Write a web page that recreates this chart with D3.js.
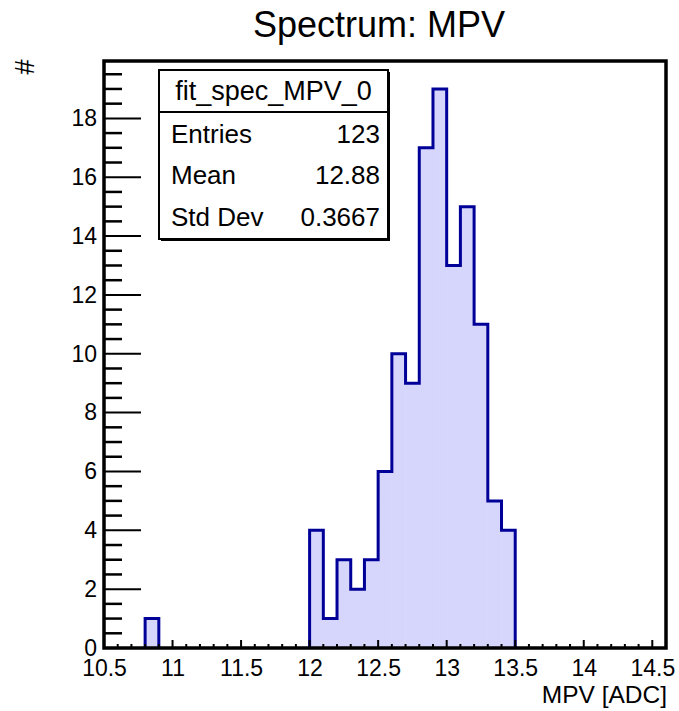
<!DOCTYPE html>
<html><head><meta charset="utf-8">
<script src="https://cdn.jsdelivr.net/npm/d3@7"></script>
<style>body{margin:0;background:#fff}svg{display:block}text{font-family:"Liberation Sans",Arial,Helvetica,sans-serif}</style>
</head><body><svg id="c" width="679" height="711"></svg>
<script>
// Data: bin low edges (width 0.1) and counts
const binWidth = 0.1;
const binLow = [10.8, 12.0, 12.1, 12.2, 12.3, 12.4, 12.5, 12.6, 12.7, 12.8, 12.9, 13.0, 13.1, 13.2, 13.3, 13.4];
const counts = [1, 4, 1, 3, 2, 3, 6, 10, 9, 17, 19, 13, 15, 11, 5, 4];
const xTicks = [10.5, 11, 11.5, 12, 12.5, 13, 13.5, 14, 14.5];
const yTicks = [0, 2, 4, 6, 8, 10, 12, 14, 16, 18];
const statLabels = ["Entries", "Mean", "Std Dev"];
const statValues = ["123", "12.88", "0.3667"];
const histName = "fit_spec_MPV_0";
const title = "Spectrum: MPV";
const xTitle = "MPV [ADC]";
const yTitle = "#";

const svg = d3.select("#c");
const L = 104, R = 666, T = 61, B = 648;
const x = d3.scaleLinear().domain([10.5, 14.6]).range([L, R]);
const y = d3.scaleLinear().domain([0, 19.95]).range([B, T]);

const line = d3.line().x(d => x(d[0])).y(d => y(d[1]));
// fill
binLow.forEach((lo, i) => {
  svg.append("rect").attr("x", x(lo)).attr("y", y(counts[i]))
    .attr("width", x(lo + binWidth) - x(lo)).attr("height", y(0) - y(counts[i]))
    .attr("fill", "#d6d6fc").attr("stroke", "#d6d6fc").attr("stroke-width", 0.5);
});
// outline: merge contiguous groups
const groups = [];
let cur = null;
binLow.forEach((lo, i) => {
  if (cur && Math.abs(cur.end - lo) < 1e-6) { cur.bins.push(i); cur.end = lo + binWidth; }
  else { cur = {bins: [i], end: lo + binWidth}; groups.push(cur); }
});
groups.forEach(g => {
  const p = [];
  const first = binLow[g.bins[0]];
  p.push([first, 0]);
  g.bins.forEach(i => { p.push([binLow[i], counts[i]], [binLow[i] + binWidth, counts[i]]); });
  p.push([g.end, 0]);
  svg.append("path").attr("d", line(p)).attr("fill", "none")
    .attr("stroke", "#000099").attr("stroke-width", 3).attr("stroke-linejoin", "miter");
});

// Axes ticks
const gx = svg.append("g");
const minorX = d3.range(105, 146).map(v => v / 10);
minorX.forEach(v => {
  if (v > 14.6) return;
  const isMajor = Math.abs(v * 2 - Math.round(v * 2)) < 1e-6;
  gx.append("line").attr("x1", x(v)).attr("x2", x(v)).attr("y1", B).attr("y2", B - (isMajor ? 8 : 4))
    .attr("stroke", "#000").attr("stroke-width", 2);
});
const xAxis = d3.axisBottom(x).tickValues(xTicks).tickSize(0).tickPadding(12).tickFormat(d3.format("~g"));
const ga = svg.append("g").attr("transform", `translate(0,${B})`).call(xAxis);
ga.select(".domain").remove();
ga.selectAll("text").attr("font-size", 23).attr("fill", "#000").attr("font-family", "Liberation Sans, Arial, sans-serif");

const gy = svg.append("g");
d3.range(0, 40).map(v => v / 2).forEach(v => {
  if (v > 19.95) return;
  const isMajor = v % 2 === 0;
  gy.append("line").attr("x1", L).attr("x2", L + (isMajor ? 37 : 18)).attr("y1", y(v)).attr("y2", y(v))
    .attr("stroke", "#000").attr("stroke-width", isMajor ? 2 : 2.5);
});
const yAxis = d3.axisLeft(y).tickValues(yTicks).tickSize(0).tickPadding(7);
const gya = svg.append("g").attr("transform", `translate(${L},0)`).call(yAxis);
gya.select(".domain").remove();
gya.selectAll("text").attr("font-size", 23).attr("fill", "#000").attr("font-family", "Liberation Sans, Arial, sans-serif");

// frame
svg.append("rect").attr("x", L).attr("y", T).attr("width", R - L).attr("height", B - T)
  .attr("fill", "none").attr("stroke", "#000").attr("stroke-width", 3.5);

// title
svg.append("text").attr("x", 379).attr("y", 37).attr("text-anchor", "middle")
  .attr("font-size", 36).text(title);
// axis titles
svg.append("text").attr("x", R + 1).attr("y", 703).attr("text-anchor", "end").attr("font-size", 24.5).text(xTitle);
svg.append("text").attr("transform", "translate(34,67) rotate(-90)").attr("text-anchor", "middle")
  .attr("font-size", 27).text(yTitle);

// stats box
const sb = svg.append("g");
const bx0 = 159, bx1 = 388, by0 = 70, by1 = 239, hy = 112;
sb.append("rect").attr("x", bx0 + 2).attr("y", by0 + 2).attr("width", bx1 - bx0).attr("height", by1 - by0).attr("fill", "#000");
sb.append("rect").attr("x", bx0).attr("y", by0).attr("width", bx1 - bx0).attr("height", by1 - by0)
  .attr("fill", "#fff").attr("stroke", "#000").attr("stroke-width", 2);
sb.append("line").attr("x1", bx0).attr("x2", bx1).attr("y1", hy).attr("y2", hy).attr("stroke", "#000").attr("stroke-width", 2);
sb.append("text").attr("x", (bx0 + bx1) / 2).attr("y", 100).attr("text-anchor", "middle").attr("font-size", 27).text(histName);
const rowY = [143, 184, 226];
statLabels.forEach((s, i) => {
  sb.append("text").attr("x", 171).attr("y", rowY[i]).attr("font-size", 26).text(s);
  sb.append("text").attr("x", 380).attr("y", rowY[i]).attr("text-anchor", "end").attr("font-size", 26).text(statValues[i]);
});
</script></body></html>
